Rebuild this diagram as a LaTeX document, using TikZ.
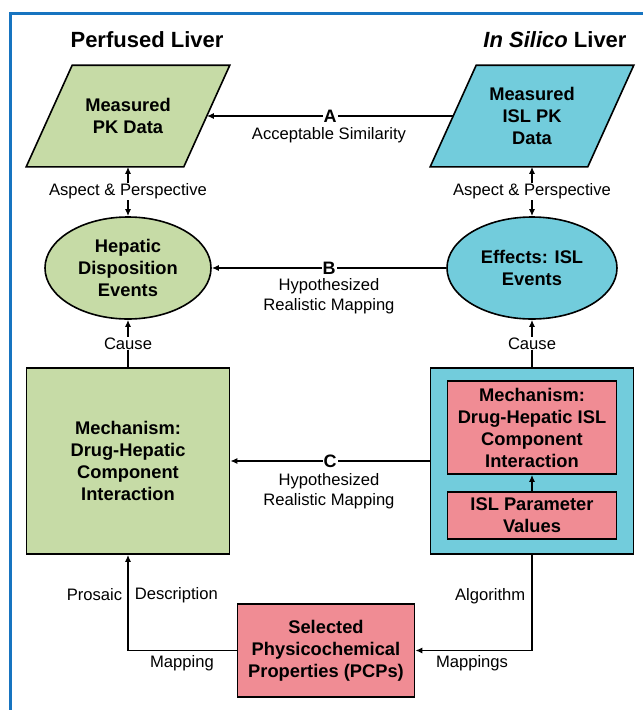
\documentclass[tikz,border=0pt]{standalone}
\usepackage{fontspec}
\setmainfont{Liberation Sans}
\usetikzlibrary{shapes.geometric,arrows.meta,positioning,backgrounds}
\definecolor{pkgreen}{HTML}{C6DBA6}
\definecolor{islblue}{HTML}{72CCDC}
\definecolor{islred}{HTML}{F08C94}
\definecolor{framebl}{HTML}{1774C0}
\tikzset{boxtext/.style={font=\fontsize{18.3}{22}\selectfont\bfseries,align=center}}
\tikzset{lbl/.style={font=\fontsize{16.6}{20}\selectfont,align=center,inner sep=1pt}}
\tikzset{lblfill/.style={lbl,fill=white}}
\tikzset{letter/.style={font=\fontsize{18}{20}\selectfont\bfseries,fill=white,inner sep=1pt}}
\tikzset{databody/.style={boxtext,minimum width=156pt,minimum height=100pt,inner sep=0pt}}
\tikzset{event/.style={boxtext,draw,ellipse,minimum height=102pt,inner sep=0pt}}
\tikzset{mechbox/.style={boxtext,draw,minimum width=203pt,minimum height=186pt}}
\tikzset{redbox/.style={boxtext,draw,fill=islred,minimum width=169pt,inner sep=0pt}}
\tikzset{link/.style={-{Latex[length=7pt,width=6pt]}}}
\tikzset{dlink/.style={{Latex[length=7pt,width=6pt]}-{Latex[length=7pt,width=6pt]}}}
\newcommand{\slantpara}[2]{%
  \filldraw[fill=#2,line width=1.6pt,line join=miter]
    ([xshift=-23pt]#1.south west) -- ([xshift=-23pt]#1.south east)
    -- ([xshift=23pt]#1.north east) -- ([xshift=23pt]#1.north west) -- cycle;}

\begin{document}
\begin{tikzpicture}[x=1pt,y=-1pt]
  \useasboundingbox (0,0) rectangle (643,710);
  \pgfsetlinewidth{1.6pt}

  \draw[framebl,line width=3pt] (10,710) -- (10,13) -- (643,13);

  \node[font=\fontsize{22}{26}\selectfont\bfseries] (perfhead) at (147,40) {Perfused Liver};
  \node[font=\fontsize{22}{26}\selectfont\bfseries] (islhead)  at (555,40) {\textit{In Silico} Liver};

  % data, events, mechanisms
  \node[databody] (pkdata)  at (128,116) {Measured\\PK Data};
  \node[databody] (isldata) at (532,116) {Measured\\ISL PK\\Data};
  \begin{scope}[on background layer]
    \slantpara{pkdata}{pkgreen}
    \slantpara{isldata}{islblue}
  \end{scope}

  \node[event,fill=pkgreen,minimum width=166pt] (hepev) at (128,268) {Hepatic\\Disposition\\Events};
  \node[event,fill=islblue,minimum width=170pt] (islev) at (532,268) {Effects: ISL\\Events};

  \node[mechbox,fill=pkgreen] (hepmech) at (128,461) {Mechanism:\\Drug-Hepatic\\Component\\Interaction};
  \node[mechbox,fill=islblue] (islbox)  at (532,461) {};
  \node[redbox,minimum height=93pt] (islmech) at (532,427.5) {Mechanism:\\Drug-Hepatic ISL\\Component\\Interaction};
  \node[redbox,minimum height=47pt] (islpar)  at (532,515.5) {ISL Parameter\\Values};

  \node[redbox,minimum width=177pt,minimum height=93pt] (pcp) at (326,650.5) {Selected\\Physicochemical\\Properties (PCPs)};

  % mappings
  \draw[link] (isldata.west) -- node[letter] (lblA) {A} (pkdata.east);
  \node[lbl] (simA) at (329,135) {Acceptable Similarity};
  \draw[link] (islev.west) -- node[letter] (lblB) {B} (hepev.east);
  \node[lbl] (mapB) at (329,296) {Hypothesized\\Realistic Mapping};
  \draw[link] (islbox.west) -- node[letter] (lblC) {C} (hepmech.east);
  \node[lbl] (mapC) at (329,491) {Hypothesized\\Realistic Mapping};

  % vertical links
  \draw[dlink] (pkdata.south) -- node[lblfill] (aspL) {Aspect \& Perspective} (hepev.north);
  \draw[dlink] (isldata.south) -- node[lblfill] (aspR) {Aspect \& Perspective} (islev.north);
  \draw[link] (hepmech.north) -- node[lblfill] (causeL) {Cause} (hepev.south);
  \draw[link] (islbox.north) -- node[lblfill] (causeR) {Cause} (islev.south);
  \draw[link] (islpar.north) -- (islmech.south);

  % from PCPs
  \draw[link] (pcp.west) -| (hepmech.south);
  \draw[link] (islbox.south) |- (pcp.east);
  \node[lbl,anchor=east] (prosaic) at (124,595) {Prosaic};
  \node[lbl,anchor=west] (descr)   at (133,595) {Description};
  \node[lbl] (mapL) at (182,663) {Mapping};
  \node[lbl,anchor=east] (algo) at (527,596) {Algorithm};
  \node[lbl] (mapR) at (472,663) {Mappings};
\end{tikzpicture}
\end{document}
